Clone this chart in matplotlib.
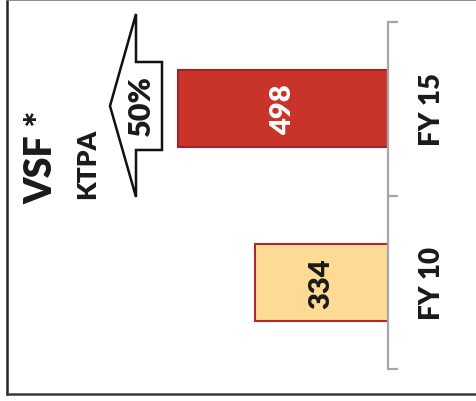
import numpy as np
import matplotlib
matplotlib.use("Agg")
import matplotlib.pyplot as plt
from matplotlib.patches import Polygon
from matplotlib.lines import Line2D

# data
categories = ["FY 10", "FY 15"]
values = [334, 498]
bar_colors = ["#FDDB94", "#C9342A"]
edge_colors = ["#B3262A", "#A3222A"]
label_colors = ["#1A1A1A", "#FFFFFF"]
title = "VSF *"
unit = "KTPA"
growth_label = "50%"

W, H = 476, 402
WEIGHT = "heavy"
plt.rcParams['font.family'] = ['Lato', 'DejaVu Sans']

fig = plt.figure(figsize=(W / 100, H / 100), dpi=100)


def px(x, y):
    # image pixel -> figure fraction
    return x / W, 1 - y / H


# axes: spine at x=388, categories between y=23 and y=370
ax_left, ax_right = 100, 388
ax_top, ax_bot = 23, 370
ax = fig.add_axes([ax_left / W, 1 - ax_bot / H, (ax_right - ax_left) / W, (ax_bot - ax_top) / H])

ypos = np.arange(len(categories))
ax.barh(ypos, values, height=0.445, color=bar_colors, edgecolor=edge_colors, linewidth=1.5, zorder=2)
ax.set_ylim(-0.5, len(categories) - 0.5)
ax.set_xlim(662, 52.6)

for s in ["top", "bottom", "left"]:
    ax.spines[s].set_visible(False)
ax.spines["right"].set_color("#A6A6A6")
ax.spines["right"].set_linewidth(1.6)
ax.spines["right"].set_zorder(3)
ax.set_xticks([])
ax.yaxis.tick_right()
ax.set_yticks(np.arange(len(categories) + 1) - 0.5)
ax.set_yticklabels([])
ax.set_yticks(ypos, minor=True)
ax.set_yticklabels(categories, minor=True, rotation=90, va="center", ha="left",
                   fontsize=20, fontweight=WEIGHT, color="#1A1A1A")
ax.tick_params(axis="y", which="major", length=7.2, width=1.6, color="#A6A6A6", right=True, left=False)
ax.tick_params(axis="y", which="minor", length=0, pad=22, right=True, left=False)
ax.patch.set_alpha(0)

# values inside bars
for y, v, c in zip(ypos, values, label_colors):
    xm = (v + ax.get_xlim()[1]) / 2
    ax.text(xm, y, str(v), rotation=90, ha="center", va="center",
            fontsize=21, fontweight=WEIGHT, color=c, zorder=4)

# growth arrow (pointing left)
arrow = [(110, 107), (136, 15), (136, 63), (162, 63), (162, 151), (136, 151), (136, 198)]
fig.patches.append(Polygon([px(*p) for p in arrow], closed=True, facecolor="white",
                           edgecolor="#111111", linewidth=1.8, transform=fig.transFigure))
fig.text(*px(141, 106), growth_label, rotation=90, ha="center", va="center",
         fontsize=22, fontweight=WEIGHT, color="#1A1A1A")

# title texts
fig.text(*px(41, 157), title, rotation=90, ha="center", va="center",
         fontsize=27, fontweight=WEIGHT, color="#1A1A1A")
fig.text(*px(87, 164), unit, rotation=90, ha="center", va="center",
         fontsize=19, fontweight=WEIGHT, color="#1A1A1A")

# outer frame
fig.lines.append(Line2D([7 / W, 7 / W], [px(0, 0)[1], px(0, 395)[1]], color="#262626",
                        linewidth=1.8, transform=fig.transFigure))
fig.lines.append(Line2D([7 / W, 1], [px(0, 395)[1]] * 2, color="#3A3A3A",
                        linewidth=1.8, transform=fig.transFigure))
fig.lines.append(Line2D([7 / W, 1], [px(0, 0.5)[1]] * 2, color="#7A7A7A",
                        linewidth=1.2, transform=fig.transFigure))

fig.savefig("out.png", dpi=100)
